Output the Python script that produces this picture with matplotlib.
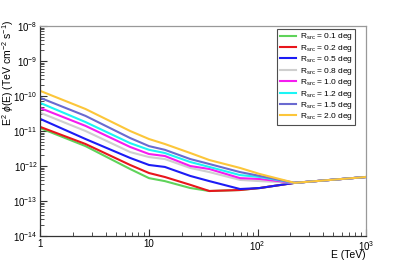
import numpy as np
import matplotlib
matplotlib.use("Agg")
import matplotlib.pyplot as plt
from matplotlib.ticker import LogLocator, FixedLocator, FixedFormatter, NullFormatter

plt.rcParams['font.family'] = ['Liberation Sans', 'DejaVu Sans']
plt.rcParams['mathtext.fontset'] = 'custom'
plt.rcParams['mathtext.rm'] = 'Liberation Sans'
plt.rcParams['mathtext.it'] = 'Liberation Sans:italic'

# energy grid (TeV)
energy = [1.0, 2.6, 6.7, 10.0, 14.0, 24.0, 36.0, 69.0, 105.0, 220.0, 1000.0]

# E^2 phi(E), TeV cm^-2 s^-1
flux_01 = [1.2e-11, 3.7e-12, 8.2e-13, 4.5e-13, 3.7e-13, 2.35e-13, 1.93e-13, 2.06e-13, 2.35e-13, 3.3e-13, 4.85e-13]
flux_02 = [1.3e-11, 4.25e-12, 1.07e-12, 6.3e-13, 4.85e-13, 2.9e-13, 1.93e-13, 2.06e-13, 2.35e-13, 3.3e-13, 4.85e-13]
flux_05 = [2.2e-11, 5.9e-12, 1.7e-12, 1.07e-12, 9.4e-13, 5.2e-13, 3.7e-13, 2.2e-13, 2.35e-13, 3.3e-13, 4.85e-13]
flux_08 = [3.3e-11, 1.0e-11, 2.5e-12, 1.8e-12, 1.58e-12, 8.8e-13, 6.7e-13, 4.0e-13, 3.7e-13, 3.3e-13, 4.85e-13]
flux_10 = [4.5e-11, 1.4e-11, 3.5e-12, 2.2e-12, 1.93e-12, 1.0e-12, 8.2e-13, 4.5e-13, 4.25e-13, 3.3e-13, 4.85e-13]
flux_12 = [6.3e-11, 1.8e-11, 4.5e-12, 2.9e-12, 2.35e-12, 1.3e-12, 9.4e-13, 5.5e-13, 4.85e-13, 3.3e-13, 4.85e-13]
flux_15 = [8.8e-11, 2.7e-11, 6.3e-12, 3.7e-12, 2.9e-12, 1.58e-12, 1.14e-12, 6.7e-13, 5.2e-13, 3.3e-13, 4.85e-13]
flux_20 = [1.39e-10, 4.25e-11, 1.0e-11, 5.9e-12, 4.25e-12, 2.35e-12, 1.48e-12, 8.8e-13, 5.9e-13, 3.3e-13, 4.85e-13]

radii = ["0.1", "0.2", "0.5", "0.8", "1.0", "1.2", "1.5", "2.0"]
curves = [flux_01, flux_02, flux_05, flux_08, flux_10, flux_12, flux_15, flux_20]
colors = ["#5fd35a", "#e8161c", "#1c1cf5", "#cfcfcf", "#f51cf0", "#1cf5f5", "#6a6ad0", "#fcc63a"]

fig = plt.figure(figsize=(4.07, 2.62), dpi=100)
ax = fig.add_axes([0.0995, 0.0992, 0.7998, 0.8016])

for r, f, c in zip(radii, curves, colors):
    ax.plot(energy, f, color=c, lw=1.5, label=r"R$_{\rm src}$ = " + r + " deg")

ax.set_xscale("log")
ax.set_yscale("log")
ax.set_xlim(1, 1000)
ax.set_ylim(1e-14, 1e-8)

ax.xaxis.set_major_locator(FixedLocator([1, 10, 100, 1000]))
ax.xaxis.set_major_formatter(FixedFormatter(["1", "10", r"$10^{2}$", r"$10^{3}$"]))
ax.xaxis.set_minor_locator(LogLocator(base=10, subs=np.arange(2, 10), numticks=20))
ax.xaxis.set_minor_formatter(NullFormatter())

yt = [1e-14, 1e-13, 1e-12, 1e-11, 1e-10, 1e-9, 1e-8]
ax.yaxis.set_major_locator(FixedLocator(yt))
ax.yaxis.set_major_formatter(FixedFormatter([r"$10^{-%d}$" % k for k in [14, 13, 12, 11, 10, 9, 8]]))
ax.yaxis.set_minor_locator(LogLocator(base=10, subs=np.arange(2, 10), numticks=20))
ax.yaxis.set_minor_formatter(NullFormatter())

ax.tick_params(which="both", direction="in", top=False, right=False, labelsize=7, pad=2, color="#333333")
ax.tick_params(which="major", length=5, width=0.8)
ax.tick_params(which="minor", length=3, width=0.6)

for s in ["left", "bottom"]:
    ax.spines[s].set_color("#333333")
    ax.spines[s].set_linewidth(0.9)
for s in ["top", "right"]:
    ax.spines[s].set_color("#999999")
    ax.spines[s].set_linewidth(0.9)

ax.set_xlabel("E (TeV)", fontsize=7.5, loc="right")
ax.xaxis.set_label_coords(1.0, -0.068)
ax.xaxis.label.set_va("top")
ax.set_ylabel(r"E$^{2}$ $\phi$(E) (TeV cm$^{-2}$ s$^{-1}$)", fontsize=7.5, loc="top")
ax.yaxis.set_label_coords(-0.076, 1.03)

leg = ax.legend(loc="upper left", bbox_to_anchor=(0.727, 0.986), fontsize=6,
                frameon=True, fancybox=False, handlelength=2.0, handletextpad=0.4,
                labelspacing=0.05, borderpad=0.3, borderaxespad=0)
leg.get_frame().set_edgecolor("#222222")
leg.get_frame().set_linewidth(0.8)

fig.savefig("out.png", dpi=100)
